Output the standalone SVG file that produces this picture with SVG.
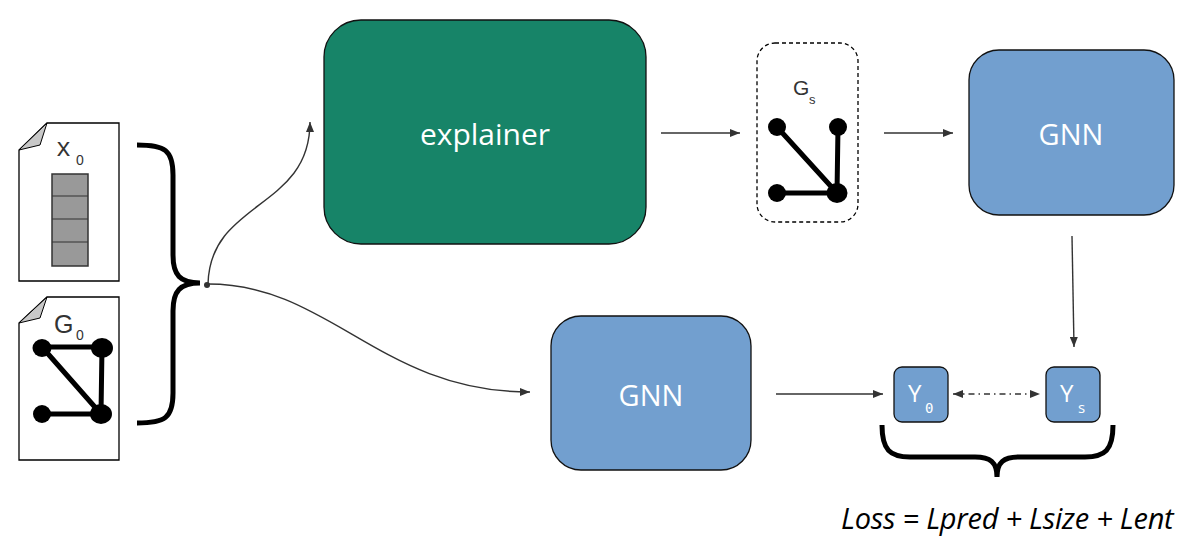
<svg xmlns="http://www.w3.org/2000/svg" width="1199" height="551" viewBox="0 0 1199 551">
<style>
.doc{fill:#fff;stroke:#000;stroke-width:1.3}
.fold{fill:#c8c8c8;stroke:#000;stroke-width:1}
.edge{stroke:#000;stroke-width:5;fill:none}
.nd{fill:#000}
.brace{fill:none;stroke:#000;stroke-width:5;stroke-linecap:butt}
.conn{fill:none;stroke:#333;stroke-width:1.4}
.box-b{fill:#729fcf;stroke:#111;stroke-width:1.3}
.box-g{fill:#178468;stroke:#111;stroke-width:1.3}
.lbl{font-family:"Open Sans","Noto Sans",sans-serif;fill:#fff;text-anchor:middle}
.gl{font-family:"Liberation Sans",Arial,sans-serif;fill:#333}
.mono{font-family:"Liberation Mono","Courier New",monospace;fill:#333}
</style>
<defs>
<marker id="ah" viewBox="0 0 10 8" refX="10" refY="4" markerWidth="10" markerHeight="8" markerUnits="userSpaceOnUse" orient="auto-start-reverse">
<path d="M0,0 L10,4 L0,8 z" fill="#333"/>
</marker>
</defs>

<g id="doc-x0">
<path class="doc" d="M47,123 H119 V281 H19 V150 Z"/>
<path class="fold" d="M47,123 L19,150 L40,145 Z"/>
<text class="mono" x="56" y="156" font-size="25">x</text>
<text class="gl" x="76" y="165" font-size="14">0</text>
<rect x="52" y="174" width="36" height="92" fill="#999" stroke="#333" stroke-width="1.5"/>
<path d="M52,196 H88 M52,219 H88 M52,242 H88" stroke="#333" stroke-width="1.2"/>
</g>

<g id="doc-g0">
<path class="doc" d="M47,297 H119 V460 H19 V323 Z"/>
<path class="fold" d="M47,297 L19,323 L40,318 Z"/>
<text class="gl" x="54" y="333" font-size="25">G</text>
<text class="gl" x="76" y="340" font-size="14">0</text>
<path class="edge" d="M42,347 H102 L101,414 H42 M42,347 L101,414"/>
<ellipse class="nd" cx="42" cy="348" rx="9.5" ry="9"/>
<ellipse class="nd" cx="102" cy="348" rx="11" ry="10"/>
<ellipse class="nd" cx="42" cy="414" rx="9" ry="9"/>
<ellipse class="nd" cx="101" cy="414" rx="11" ry="10"/>
</g>

<g id="brace-left">
<path class="brace" d="M137,145 C165,145 173,150 173,175 V255 C173,275 180,283 200,283 C180,283 173,291 173,311 V393 C173,418 165,423 137,423"/>
<circle cx="207" cy="285" r="3" fill="#333"/>
</g>

<g id="explainer">
<rect class="box-g" x="324" y="20" width="322" height="224" rx="37"/>
<text class="lbl" x="485" y="145" font-size="30">explainer</text>
</g>

<g id="gs">
<rect x="757" y="43" width="101" height="179" rx="18" fill="none" stroke="#000" stroke-width="1.3" stroke-dasharray="4,3"/>
<text class="gl" x="793" y="95" font-size="21">G</text>
<text class="gl" x="809" y="104" font-size="13">s</text>
<path class="edge" d="M777,127 L837,193 M838,127 L837,193 M777,193 H837"/>
<circle class="nd" cx="777" cy="127" r="9"/>
<circle class="nd" cx="838" cy="127" r="9"/>
<circle class="nd" cx="777" cy="193" r="9"/>
<ellipse class="nd" cx="837" cy="193" rx="10.5" ry="10"/>
</g>

<g id="gnn-top">
<rect class="box-b" x="969" y="50" width="205" height="165" rx="30"/>
<text class="lbl" x="1071" y="145" font-size="29">GNN</text>
</g>

<g id="gnn-bottom">
<rect class="box-b" x="551" y="316" width="200" height="154" rx="30"/>
<text class="lbl" x="651" y="406" font-size="29">GNN</text>
</g>

<g id="y0">
<rect class="box-b" x="894" y="367" width="54" height="55" rx="8"/>
<text x="908" y="402" font-family="'Open Sans','Noto Sans',sans-serif" font-size="24" fill="#fff">Y</text>
<text x="925" y="413" font-family="'DejaVu Sans Mono',monospace" font-size="14" fill="#fff">0</text>
</g>

<g id="ys">
<rect class="box-b" x="1046" y="367" width="54" height="55" rx="8"/>
<text x="1060" y="402" font-family="'Open Sans','Noto Sans',sans-serif" font-size="24" fill="#fff">Y</text>
<text x="1078" y="413" font-family="'Open Sans','Noto Sans',sans-serif" font-size="15" fill="#fff">s</text>
</g>

<g id="connectors">
<path class="conn" d="M208,284 C210,200 310,210 310,122" marker-end="url(#ah)"/>
<path class="conn" d="M208,284 C330,284 380,392 530,392" marker-end="url(#ah)"/>
<path class="conn" d="M661,133 H740" marker-end="url(#ah)"/>
<path class="conn" d="M884,133 H953" marker-end="url(#ah)"/>
<path class="conn" d="M1072,236 L1074,347" marker-end="url(#ah)"/>
<path class="conn" d="M776,394 H883" marker-end="url(#ah)"/>
<path class="conn" d="M953,394 H1040" stroke-dasharray="6,4,1.5,4" marker-start="url(#ah)" marker-end="url(#ah)"/>
</g>

<g id="brace-bottom">
<path class="brace" d="M882,425 C882,450 890,457 910,457 H975 C990,457 997,462 997,477 C997,462 1004,457 1019,457 H1085 C1105,457 1113,450 1113,425"/>
</g>

<g id="loss">
<text x="841" y="529" font-family="'Open Sans','Noto Sans',sans-serif" font-style="italic" font-size="29" letter-spacing="-0.25" fill="#000">Loss = Lpred + Lsize + Lent</text>
</g>
</svg>
